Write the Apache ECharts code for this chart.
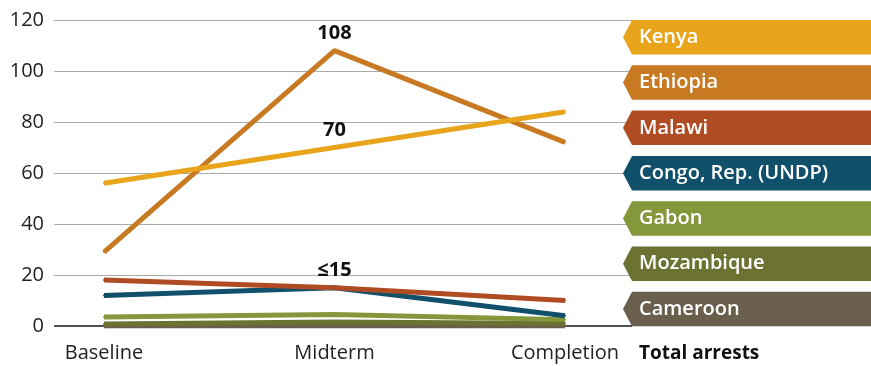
<!DOCTYPE html>
<html>
<head>
<meta charset="utf-8">
<script src="https://cdn.jsdelivr.net/npm/echarts@6/dist/echarts.min.js"></script>
<style>
  html, body { margin: 0; padding: 0; background: #fff; }
  #chart { width: 871px; height: 366px; }
</style>
</head>
<body>
<div id="chart"></div>
<script>
// Survey rounds
const rounds = ['Baseline', 'Midterm', 'Completion'];

// Total arrests per country at each round
const countries = ['Kenya', 'Ethiopia', 'Malawi', 'Congo, Rep. (UNDP)', 'Gabon', 'Mozambique', 'Cameroon'];
const kenya      = [56, 70, 84];
const ethiopia   = [29, 108, 72];
const malawi     = [18, 15, 10];
const congo      = [12, 15, 4];
const gabon      = [3.5, 4.5, 2.5];
const mozambique = [0.8, 1.6, 1];
const cameroon   = [0, 0, 0];

const yTicks = [0, 20, 40, 60, 80, 100, 120];
const axisTitle = 'Total arrests';

const colors = ['#E8A51B', '#C77A22', '#B04C23', '#11506A', '#84973B', '#6C7332', '#6A5E4C'];
const values = [kenya, ethiopia, malawi, congo, gabon, mozambique, cameroon];

// Which rounds carry a value label, and how it is written
const labelled = {
  Kenya:    { idx: 1, fmt: v => String(v) },
  Ethiopia: { idx: 1, fmt: v => String(v) },
  Malawi:   { idx: 1, fmt: v => '\u2264' + v }
};

const font = '"Open Sans", Lato, sans-serif';
const fs = 20;
const chart = echarts.init(document.getElementById('chart'));

const plotTop = 20, plotBottom = 40;

// Series drawn bottom-up so upper lines sit on top
const series = [];
for (let i = countries.length - 1; i >= 0; i--) {
  const name = countries[i];
  const lab = labelled[name];
  series.push({
    name: name,
    type: 'line',
    xAxisIndex: 1,
    yAxisIndex: 1,
    data: values[i].map((v, k) => {
      if (lab && lab.idx === k) {
        return {
          value: v,
          label: {
            show: true,
            position: 'top',
            distance: 6,
            formatter: lab.fmt(v),
            color: '#111',
            fontSize: fs,
            fontWeight: 'bold',
            fontFamily: font
          }
        };
      }
      return v;
    }),
    symbol: 'circle',
    symbolSize: 2,
    showSymbol: true,
    silent: true,
    lineStyle: { width: 5, color: colors[i], cap: 'butt' },
    itemStyle: { color: colors[i] },
    z: 3
  });
}

// Tag-shaped legend entries on the right
const tagLeft = 623, tagBody = 632, tagTop0 = 20, tagStep = 45.3, tagH = 34.5;
const graphics = [];
countries.forEach((name, i) => {
  const t = tagTop0 + i * tagStep;
  graphics.push({
    type: 'polygon',
    z: 100,
    shape: {
      points: [
        [tagLeft, t + tagH / 2],
        [tagBody, t],
        [871, t],
        [871, t + tagH],
        [tagBody, t + tagH]
      ]
    },
    style: { fill: colors[i] }
  });
  graphics.push({
    type: 'text',
    z: 101,
    x: 639,
    y: t + tagH / 2,
    style: {
      text: name,
      fill: '#fff',
      font: '600 ' + fs + 'px ' + font,
      textVerticalAlign: 'middle'
    }
  });
});
graphics.push({
  type: 'text',
  z: 101,
  x: 639,
  y: 354,
  style: {
    text: axisTitle,
    fill: '#111',
    font: 'bold 19px ' + font,
    textVerticalAlign: 'middle'
  }
});

chart.setOption({
  animation: false,
  backgroundColor: '#fff',
  grid: [
    { left: 54, right: 871 - 632, top: plotTop, bottom: plotBottom },
    { left: 104, right: 871 - 565, top: plotTop, bottom: plotBottom }
  ],
  xAxis: [
    {
      gridIndex: 0, type: 'value', min: 0, max: 1,
      axisLine: { show: false }, axisTick: { show: false },
      axisLabel: { show: false }, splitLine: { show: false }
    },
    {
      gridIndex: 1, type: 'category', data: rounds, boundaryGap: false,
      axisLine: { show: false }, axisTick: { show: false },
      axisLabel: { color: '#222', fontSize: fs, fontFamily: font, margin: 17 },
      splitLine: { show: false }
    }
  ],
  yAxis: [
    {
      gridIndex: 0, type: 'value', min: yTicks[0], max: yTicks[yTicks.length - 1], interval: 20,
      axisLine: { show: false },
      axisTick: { show: false },
      axisLabel: { color: '#222', fontSize: fs, fontFamily: font, margin: 10 },
      splitLine: { show: true, lineStyle: { color: '#aaaaaa', width: 1.2 } }
    },
    {
      gridIndex: 1, type: 'value', min: yTicks[0], max: yTicks[yTicks.length - 1], interval: 20,
      show: false
    }
  ],
  series: series.concat([{
    // baseline at zero across the full plot width
    type: 'line',
    xAxisIndex: 0,
    yAxisIndex: 0,
    data: [[0, 0], [1, 0]],
    symbol: 'none',
    silent: true,
    lineStyle: { color: '#111', width: 1.5 },
    z: 1
  }]),
  graphic: graphics
});
</script>
</body>
</html>
